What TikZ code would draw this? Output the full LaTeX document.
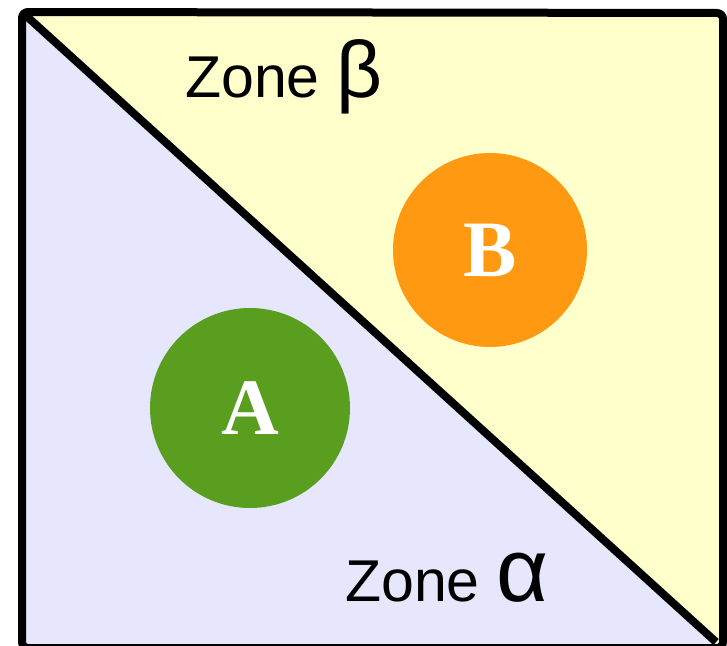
\documentclass[tikz,border=0pt]{standalone}
\usepackage{fontspec}
\setmainfont{Liberation Sans}
\newfontfamily\serifbold{Liberation Serif}
\definecolor{lav}{HTML}{E6E6FC}
\definecolor{pale}{HTML}{FFFFCC}
\definecolor{agreen}{HTML}{599E1E}
\definecolor{borange}{HTML}{FF9912}
\begin{document}
\begin{tikzpicture}[x=1pt,y=-1pt,
  zone/.style={font=\fontsize{59}{63}\selectfont, anchor=base west, inner sep=0pt},
  ball/.style={circle, inner sep=0pt, text=white, font=\fontsize{80}{84}\selectfont\serifbold\bfseries}]
\useasboundingbox (0,0) rectangle (727,645);
\coordinate (tl) at (22,12);
\coordinate (tr) at (723,13);
\coordinate (br) at (723,648);
\coordinate (bl) at (22,648);
\coordinate (de) at (716,642);
\fill[lav] (tl) -- (br) -- (bl) -- cycle;
\fill[pale] (tl) -- (tr) -- (br) -- cycle;
\node[ball, fill=agreen, minimum size=200pt] (A) at (250,408) {A};
\node[ball, fill=borange, minimum size=194pt] (B) at (490,250) {B};
\node[zone] (zb) at (185,97) {Zone \fontsize{80}{84}\selectfont β};
\node[zone] (za) at (345,601) {Zone \fontsize{90}{94}\selectfont α};
\draw[line width=8pt, line join=round, rounded corners=6pt] (bl) -- (tl) -- (tr) -- (br) -- cycle;
\draw[line width=8pt] (tl) -- (de);
\end{tikzpicture}
\end{document}
